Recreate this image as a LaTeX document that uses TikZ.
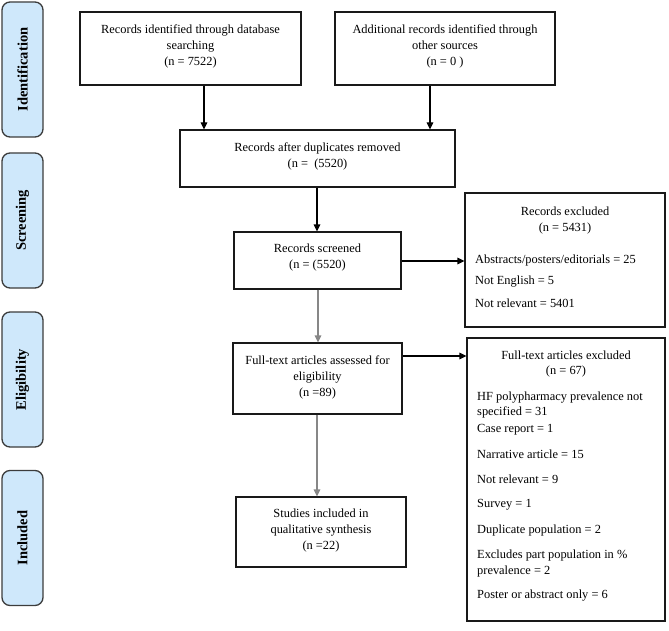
\documentclass[tikz,border=0pt]{standalone}
\usepackage{fontspec}
\setmainfont{Liberation Serif}
\usetikzlibrary{arrows.meta}
\definecolor{sidefill}{RGB}{207,232,251}
\definecolor{sideline}{RGB}{60,60,60}
\definecolor{grayarrow}{RGB}{135,135,135}
\tikzset{
  box/.style={draw=black!90, line width=1.1pt, inner sep=0pt},
  boxtext/.style={align=center, inner sep=0pt, font=\fontsize{12.4}{16}\selectfont},
  linetext/.style={inner sep=0pt, text height=9pt, text depth=3pt, font=\fontsize{12.4}{16}\selectfont},
  side/.style={draw=sideline, fill=sidefill, line width=1.3pt, rounded corners=8pt, rotate=90,
    minimum width=135pt, minimum height=41pt, inner sep=0pt, font=\fontsize{14.5}{16}\selectfont\bfseries},
  arr/.style={draw=black, line width=1.1pt, -{Triangle[length=7pt,width=6.5pt]}},
  garr/.style={draw=grayarrow, line width=1.1pt, -{Triangle[length=7pt,width=6.5pt]}}
}
\begin{document}
\begin{tikzpicture}[x=1pt,y=-1pt]
\useasboundingbox (0,0) rectangle (669,631);
% side labels
\node[side] (sid) at (22.5,69.5) {Identification};
\node[side] (sscr) at (22.5,220.5) {Screening};
\node[side] (selig) at (22.5,379.5) {Eligibility};
\node[side] (sinc) at (22.5,538) {Included};
% main boxes
\node[box, minimum width=221pt, minimum height=73pt] (b1) at (190.5,48.5) {};
\node[boxtext] at (190.5,46) {Records identified through database\\searching\\(n = 7522)};
\node[box, minimum width=220pt, minimum height=73pt] (b2) at (445,48.5) {};
\node[boxtext] at (445,46) {Additional records identified through\\other sources\\(n = 0 )};
\node[box, minimum width=275pt, minimum height=57pt] (b3) at (317.5,158.5) {};
\node[boxtext] at (317.5,156) {Records after duplicates removed\\(n =\ \ (5520)};
\node[box, minimum width=167pt, minimum height=57pt] (b4) at (317.5,260.5) {};
\node[boxtext] at (317.5,257.5) {Records screened\\(n = (5520)};
\node[box, minimum width=169pt, minimum height=71pt] (b5) at (317.5,378.5) {};
\node[boxtext] at (317.5,377) {Full-text articles assessed for\\eligibility\\(n =89)};
\node[box, minimum width=170pt, minimum height=70pt] (b6) at (321,532) {};
\node[boxtext] at (321,531) {Studies included in\\qualitative synthesis\\(n =22)};
% exclusion boxes
\node[box, minimum width=200pt, minimum height=134pt] (b7) at (565,260) {};
\node[linetext] at (565,212) {Records excluded};
\node[linetext] at (565,228) {(n = 5431)};
\node[linetext, anchor=west] at (475,260) {Abstracts/posters/editorials = 25};
\node[linetext, anchor=west] at (475,281) {Not English = 5};
\node[linetext, anchor=west] at (475,304) {Not relevant = 5401};
\node[box, minimum width=198pt, minimum height=283pt] (b8) at (566,479.5) {};
\node[linetext] at (566,356) {Full-text articles excluded};
\node[linetext] at (566,371) {(n = 67)};
\node[linetext, anchor=west] at (477,397) {HF polypharmacy prevalence not};
\node[linetext, anchor=west] at (477,412) {specified = 31};
\node[linetext, anchor=west] at (477,429) {Case report = 1};
\node[linetext, anchor=west] at (477,455) {Narrative article = 15};
\node[linetext, anchor=west] at (477,480) {Not relevant = 9};
\node[linetext, anchor=west] at (477,504) {Survey = 1};
\node[linetext, anchor=west] at (477,530) {Duplicate population = 2};
\node[linetext, anchor=west] at (477,555) {Excludes part population in \%};
\node[linetext, anchor=west] at (477,571) {prevalence = 2};
\node[linetext, anchor=west] at (477,595) {Poster or abstract only = 6};
% connectors
\draw[arr] (b1.south -| 204,0) -- (b3.north -| 204,0);
\draw[arr] (b2.south -| 430,0) -- (b3.north -| 430,0);
\draw[arr] (b3.south -| 317,0) -- (b4.north -| 317,0);
\draw[garr] (b4.south -| 318,0) -- (b5.north -| 318,0);
\draw[garr] (b5.south -| 317,0) -- (b6.north -| 317,0);
\draw[arr] (b4.east |- 0,261) -- (b7.west |- 0,261);
\draw[arr] (b5.east |- 0,356) -- (b8.west |- 0,356);
\end{tikzpicture}
\end{document}
